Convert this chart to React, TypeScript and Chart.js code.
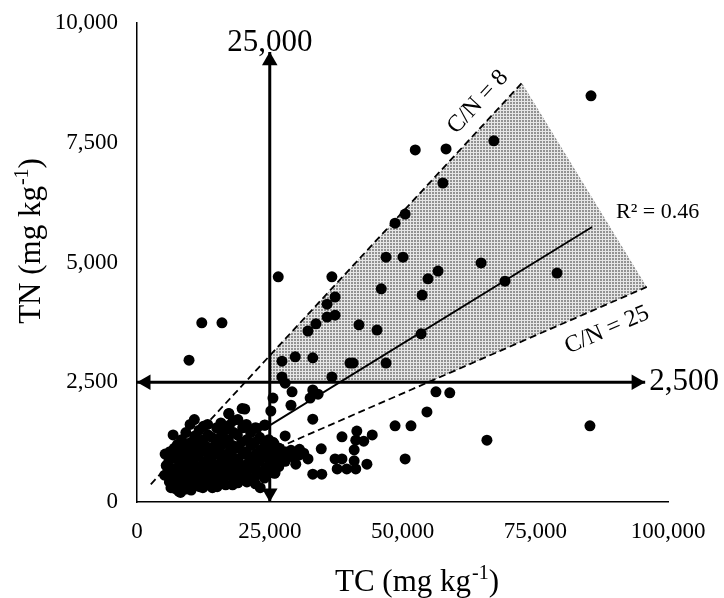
import React, { useEffect, useRef } from "react";
import { Chart, registerables } from "chart.js";

Chart.register(...registerables);

const FONT = "'Liberation Serif', 'Times New Roman', serif";

// Axis ranges / ticks
const xTickStep = 25000;
const yTickStep = 2500;
const xMax = 100000;
const yMax = 10000;

// Scattered samples (TC, TN in mg/kg)
const scatterTC = [
  85500, 52400, 58200, 67200, 57600, 48600, 50500, 46900, 50100, 64800,
  56700, 54800, 46000, 53700, 69300, 79100, 26600, 36700, 37300, 35800,
  35800, 37300, 33700, 32200, 41800, 45200, 53500, 27300, 29800, 33100,
  40100, 40700, 46900, 27300, 27900, 36700, 33100, 34100, 29200, 32600,
  25600, 29000, 25200, 33100, 56300, 58900, 54600, 48600, 51600, 38600,
  41400, 41200, 42700, 44300, 27900, 25600, 34700, 31400, 32200, 40900,
  37300, 38600, 40900, 43300, 50500, 29900, 37700, 39500, 41200, 33100,
  34800, 26600, 28200, 25400, 26000, 24700, 65900, 85300, 12200, 16000,
  9800, 20300, 17300, 22600, 24100,
];
const scatterTN = [
  8480, 7350, 7370, 7540, 6660, 5820, 6010, 5110, 5110, 4990,
  4820, 4660, 4450, 4320, 4610, 4780, 4700, 4700, 4280, 4130,
  3860, 3900, 3720, 3570, 3700, 3590, 3510, 2940, 3030, 3010,
  2900, 2900, 2900, 2610, 2480, 2610, 2340, 2250, 2300, 2170,
  2170, 2020, 1900, 1730, 2300, 2280, 1880, 1590, 1590, 1360,
  1480, 1290, 1270, 1400, 1380, 1250, 1110, 1020, 900, 1090,
  900, 900, 860, 790, 900, 790, 690, 690, 690, 580,
  580, 900, 980, 900, 610, 1090, 1290, 1590, 3740, 3740,
  2960, 1940, 1840, 1540, 1610,
];

// Dense low-carbon cluster
const clusterTC = [
  5300, 5500, 5200,
  6200, 6000, 6300, 6100, 6400,
  6800, 7000, 6700, 7100, 6900, 7200,
  7600, 7800, 7500, 7700, 7900,
  8400, 8300, 8600, 8500, 8700, 8200,
  9200, 9400, 9100, 9300, 9500, 9200,
  10000, 10200, 9900, 10100, 10300, 10000, 10200,
  10800, 10900, 11000, 10700, 11100, 10900,
  11700, 11800, 11600, 11900, 11700, 11800,
  12500, 12400, 12700, 12600, 12400, 12600, 12400,
  13300, 13400, 13200, 13500, 13300, 13400,
  14100, 14200, 14000, 14300, 14100, 14200,
  15000, 14900, 15100, 15000, 15200, 15100,
  15800, 15900, 15700, 16000, 15800, 15900,
  16600, 16500, 16700, 16600, 16500, 16700,
  17300, 17400, 17200, 17500, 17300, 17400,
  18100, 18200, 18000, 18300, 18100, 18200, 18000,
  19000, 18900, 19100, 19000, 19200, 19000,
  19800, 19900, 19700, 20000, 19800, 19900,
  20600, 20700, 20500, 20800, 20600, 20700,
  21400, 21500, 21300, 21600, 21400,
  22300, 22200, 22400, 22300, 22500, 22300,
  23100, 23200, 23000, 23300, 23200,
  24000, 24100, 23900, 24200, 24000,
  24800, 24900, 24700, 24900,
  25800, 25900, 25700, 25900,
  26800, 26900, 26700,
  27800, 27900,
  29000, 29100,
  30500, 30600,
];
const clusterTN = [
  1000, 760, 560,
  1050, 850, 620, 420, 300,
  1400, 1120, 950, 700, 500, 280,
  1200, 880, 660, 400, 220,
  1300, 1050, 780, 550, 330, 200,
  1450, 1150, 950, 700, 480, 270,
  1620, 1250, 1020, 800, 600, 380, 250,
  1720, 1380, 1100, 880, 660, 440,
  1500, 1200, 980, 740, 520, 320,
  1580, 1300, 1060, 840, 600, 400, 300,
  1620, 1400, 1150, 920, 700, 480,
  1350, 1100, 860, 620, 400, 300,
  1550, 1250, 1000, 780, 550, 320,
  1650, 1400, 1150, 920, 680, 450,
  1500, 1220, 980, 760, 520, 360,
  1850, 1600, 1300, 1050, 820, 600,
  1700, 1450, 1180, 920, 700, 480, 360,
  1720, 1400, 1120, 880, 640, 400,
  1950, 1550, 1250, 1000, 750, 520,
  1620, 1300, 1050, 800, 580, 420,
  1450, 1180, 950, 700, 480,
  1550, 1250, 1000, 780, 560, 380,
  1350, 1080, 850, 620, 300,
  1600, 1200, 980, 720, 500,
  1300, 1080, 900, 620,
  1220, 1020, 800, 600,
  1120, 920, 740,
  1050, 850,
  1080, 950,
  980, 1100,
];

// Reference lines
const cn8LineTC = [2600, 72500];
const cn8LineTN = [370, 8750];
const cn25LineTC = [26500, 96000];
const cn25LineTN = [1130, 4490];
const trendTC = [25000, 85700];
const trendTN = [1600, 5740];

// Shaded zone (C/N 8–25, TC > 25,000, TN > 2,500)
const zoneTC = [25000, 25000, 72500, 96000, 54900, 25000];
const zoneTN = [2500, 3056, 8750, 4490, 2500, 2500];

// Threshold arrows
const vArrowTC = [25000, 25000];
const vArrowTN = [0, 9395];
const hArrowTC = [0, 95700];
const hArrowTN = [2500, 2500];
const headTC = [25000, 25000, 94000, 1700];
const headTN = [9210, 188, 2500, 2500];
const headRotation = [0, 180, 90, 270];

// Text
const vArrowLabel = "25,000";
const hArrowLabel = "2,500";
const r2Label = "R² = 0.46";
const cn8Label = "C/N = 8";
const cn25Label = "C/N = 25";
const xTitle = ["TC (mg kg", "-1", ")"];
const yTitle = ["TN (mg kg", "-1", ")"];

const zip = (xs: number[], ys: number[]) => xs.map((x, i) => ({ x, y: ys[i] }));

function drawUnitTitle(ctx: CanvasRenderingContext2D, parts: string[], cx: number, baseline: number) {
  const big = `31px ${FONT}`;
  const small = `20px ${FONT}`;
  ctx.font = big;
  const w1 = ctx.measureText(parts[0]).width;
  const w3 = ctx.measureText(parts[2]).width;
  ctx.font = small;
  const w2 = ctx.measureText(parts[1]).width;
  const x0 = cx - (w1 + w2 + w3) / 2;
  ctx.textAlign = "left";
  ctx.textBaseline = "alphabetic";
  ctx.font = big;
  ctx.fillText(parts[0], x0, baseline);
  ctx.font = small;
  ctx.fillText(parts[1], x0 + w1 + 1, baseline - 12);
  ctx.font = big;
  ctx.fillText(parts[2], x0 + w1 + w2 + 1, baseline);
}

const textPlugin = {
  id: "textAnnotations",
  afterDraw(chart: any) {
    const { ctx, chartArea } = chart;
    const xs = chart.scales.x;
    const ys = chart.scales.y;
    ctx.save();
    ctx.fillStyle = "#000";

    ctx.font = `31px ${FONT}`;
    ctx.textAlign = "center";
    ctx.textBaseline = "alphabetic";
    ctx.fillText(vArrowLabel, xs.getPixelForValue(vArrowTC[1]), ys.getPixelForValue(vArrowTN[1]) - 1);
    ctx.textAlign = "left";
    ctx.textBaseline = "middle";
    ctx.fillText(hArrowLabel, xs.getPixelForValue(hArrowTC[1]) + 4, ys.getPixelForValue(hArrowTN[1]));

    ctx.font = `22px ${FONT}`;
    ctx.textAlign = "left";
    ctx.textBaseline = "middle";
    ctx.fillText(r2Label, xs.getPixelForValue(90200), ys.getPixelForValue(6050));

    const rotLabel = (label: string, lx: number[], ly: number[], atX: number, atY: number) => {
      const ax = xs.getPixelForValue(lx[0]);
      const ay = ys.getPixelForValue(ly[0]);
      const bx = xs.getPixelForValue(lx[1]);
      const by = ys.getPixelForValue(ly[1]);
      const ang = Math.atan2(by - ay, bx - ax);
      ctx.save();
      ctx.translate(xs.getPixelForValue(atX), ys.getPixelForValue(atY));
      ctx.rotate(ang);
      ctx.font = `24px ${FONT}`;
      ctx.textAlign = "center";
      ctx.textBaseline = "middle";
      ctx.fillText(label, 0, 0);
      ctx.restore();
    };
    rotLabel(cn8Label, cn8LineTC, cn8LineTN, 64200, 8350);
    rotLabel(cn25Label, cn25LineTC, cn25LineTN, 88500, 3590);

    drawUnitTitle(ctx, xTitle, (chartArea.left + chartArea.right) / 2 + 14, 591);
    ctx.save();
    ctx.translate(40, (chartArea.top + chartArea.bottom) / 2 - 21);
    ctx.rotate(-Math.PI / 2);
    drawUnitTitle(ctx, yTitle, 0, 0);
    ctx.restore();

    ctx.restore();
  },
};

export default function App() {
  const ref = useRef<HTMLCanvasElement>(null);

  useEffect(() => {
    document.body.style.margin = "0";
    const canvas = ref.current!;
    const ctx2d = canvas.getContext("2d")!;

    const tile = document.createElement("canvas");
    tile.width = 3;
    tile.height = 3;
    const tctx = tile.getContext("2d")!;
    tctx.fillStyle = "#e6e6e6";
    tctx.fillRect(0, 0, 3, 3);
    tctx.fillStyle = "#929292";
    tctx.fillRect(0, 0, 2, 2);
    const pattern = ctx2d.createPattern(tile, "repeat");

    const lineBase = {
      showLine: true,
      pointRadius: 0,
      fill: false,
      borderColor: "#000",
    };

    const chart = new Chart(canvas, {
      type: "scatter",
      data: {
        datasets: [
          {
            data: [...zip(scatterTC, scatterTN), ...zip(clusterTC, clusterTN)],
            backgroundColor: "#000",
            borderWidth: 0,
            pointRadius: 5.5,
            order: 1,
          },
          {
            data: zip(headTC, headTN),
            pointStyle: "triangle",
            pointRadius: 9,
            pointRotation: headRotation,
            backgroundColor: "#000",
            borderWidth: 0,
            order: 2,
          },
          { ...lineBase, data: zip(vArrowTC, vArrowTN), borderWidth: 3, order: 3 },
          { ...lineBase, data: zip(hArrowTC, hArrowTN), borderWidth: 3, order: 3 },
          { ...lineBase, data: zip(trendTC, trendTN), borderWidth: 1.8, order: 4 },
          { ...lineBase, data: zip(cn8LineTC, cn8LineTN), borderWidth: 1.8, borderDash: [7, 4], order: 5 },
          { ...lineBase, data: zip(cn25LineTC, cn25LineTN), borderWidth: 1.8, borderDash: [7, 4], order: 5 },
          {
            data: zip(zoneTC, zoneTN),
            showLine: true,
            pointRadius: 0,
            borderWidth: 0,
            borderColor: "rgba(0,0,0,0)",
            backgroundColor: pattern as any,
            fill: "shape",
            order: 10,
          },
        ] as any,
      },
      options: {
        responsive: false,
        animation: false,
        layout: { padding: { top: 23, right: 56, left: 0, bottom: 0 } },
        plugins: { legend: { display: false }, tooltip: { enabled: false } },
        scales: {
          x: {
            type: "linear",
            min: 0,
            max: xMax,
            ticks: {
              stepSize: xTickStep,
              color: "#000",
              font: { size: 23, family: FONT },
              padding: 16,
              maxRotation: 0,
            },
            grid: { display: false, drawTicks: false },
            border: { display: true, color: "#000", width: 1.5 },
            afterFit: (s: any) => {
              s.height = 96;
              s.paddingLeft = 0;
              s.paddingRight = 0;
            },
          },
          y: {
            type: "linear",
            min: 0,
            max: yMax,
            ticks: {
              stepSize: yTickStep,
              color: "#000",
              font: { size: 23, family: FONT },
              padding: 19,
            },
            grid: { display: false, drawTicks: false },
            border: { display: true, color: "#000", width: 1.5 },
            afterFit: (s: any) => {
              s.width = 137;
              s.paddingTop = 0;
              s.paddingBottom = 0;
            },
          },
        },
      } as any,
      plugins: [textPlugin],
    });
    return () => chart.destroy();
  }, []);

  return (
    <div style={{ width: 724, height: 598 }}>
      <canvas ref={ref} width={724} height={598} style={{ display: "block" }} />
    </div>
  );
}
